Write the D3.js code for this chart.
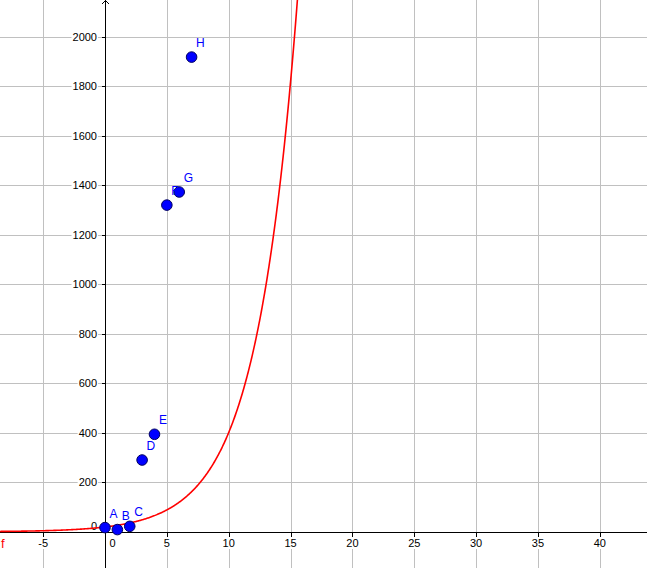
<!DOCTYPE html>
<html><head><meta charset="utf-8">
<script src="https://cdn.jsdelivr.net/npm/d3@7"></script>
<style>html,body{margin:0;padding:0;background:#fff;overflow:hidden}</style>
</head><body>
<svg id="c" width="647" height="568"></svg>
<script>
// Data
const pointLabels = ["A","B","C","D","E","F","G","H"];
const pointX = [0, 1, 2, 3, 4, 5, 6, 7];
const pointY = [17, 9, 22, 290, 394, 1320, 1373, 1918];
const xTicks = [-5, 0, 5, 10, 15, 20, 25, 30, 35, 40];
const yTicks = [0, 200, 400, 600, 800, 1000, 1200, 1400, 1600, 1800, 2000];
const fA = 19.5, fB = 1.353; // f(x) = a * b^x
const funcName = "f";

const W = 647, H = 568;
const x = d3.scaleLinear().domain([0, 40]).range([105, 105 + 40 * 12.37]);
const y = d3.scaleLinear().domain([0, 2000]).range([531.8, 531.8 - 2000 * 0.2475]);
const svg = d3.select("#c");
const fontF = "'Liberation Sans', Arial, sans-serif";

// grid
const grid = svg.append("g").attr("stroke", "#c0c0c0").attr("stroke-width", 1).attr("shape-rendering", "crispEdges");
grid.selectAll("line.v").data(xTicks).join("line")
  .attr("x1", d => Math.round(x(d)) + 0.5).attr("x2", d => Math.round(x(d)) + 0.5)
  .attr("y1", 0).attr("y2", H);
grid.selectAll("line.h").data(yTicks.filter(d => d !== 0)).join("line")
  .attr("y1", d => Math.round(y(d)) + 0.5).attr("y2", d => Math.round(y(d)) + 0.5)
  .attr("x1", 0).attr("x2", W);

// axes
const x0 = Math.round(x(0)) + 0.5, y0 = Math.round(y(0)) + 0.5;
const ax = svg.append("g").attr("stroke", "#000").attr("stroke-width", 1).attr("shape-rendering", "crispEdges");
ax.append("line").attr("x1", 0).attr("x2", W).attr("y1", y0).attr("y2", y0);
ax.append("line").attr("x1", x0).attr("x2", x0).attr("y1", 0).attr("y2", H);
ax.selectAll("line.yt").data(yTicks.filter(d => d !== 0)).join("line")
  .attr("x1", x0 - 4).attr("x2", x0).attr("y1", d => Math.round(y(d)) + 0.5).attr("y2", d => Math.round(y(d)) + 0.5);
ax.selectAll("line.xt").data(xTicks.filter(d => d !== 0)).join("line")
  .attr("x1", d => Math.round(x(d)) + 0.5).attr("x2", d => Math.round(x(d)) + 0.5).attr("y1", y0).attr("y2", y0 + 4);
svg.append("path").attr("d", `M${x0-3.5},4 L${x0},0.5 L${x0+3.5},4`).attr("fill", "none").attr("stroke", "#000").attr("stroke-width", 1);

// tick labels with white backgrounds
function lab(txt, px, py, anchor) {
  const g = svg.append("g");
  const t = g.append("text").attr("x", px).attr("y", py).attr("text-anchor", anchor)
    .attr("font-family", fontF).attr("font-size", 11).attr("fill", "#000").text(txt);
  const b = t.node().getBBox();
  g.insert("rect", "text").attr("x", b.x - 1).attr("y", b.y).attr("width", b.width + 2).attr("height", b.height).attr("fill", "#fff");
}
xTicks.forEach(d => {
  if (d === 0) lab("0", x(0) + 7.5, 547, "middle");
  else lab(String(d), x(d), 547, "middle");
});
yTicks.forEach(d => {
  if (d === 0) lab("0", x(0) - 8, 530, "end");
  else lab(String(d), x(0) - 8, y(d) + 4, "end");
});

// function curve
const xs = d3.range(-8.6, 16.5, 0.05);
const line = d3.line().x(d => x(d)).y(d => y(fA * Math.pow(fB, d)));
svg.append("path").datum(xs).attr("d", line).attr("fill", "none").attr("stroke", "#ff0000").attr("stroke-width", 1.6);
svg.append("text").attr("x", 1).attr("y", 548).attr("font-family", fontF).attr("font-size", 13).attr("fill", "#ff0000").text(funcName);

// points
const pts = pointX.map((v, i) => ({ n: pointLabels[i], x: v, y: pointY[i] }));
svg.selectAll("circle.p").data(pts).join("circle")
  .attr("cx", d => x(d.x)).attr("cy", d => y(d.y)).attr("r", 5.3)
  .attr("fill", "#0000ff").attr("stroke", "#000060").attr("stroke-width", 1);
svg.selectAll("text.pl").data(pts).join("text")
  .attr("x", d => x(d.x) + 4.5).attr("y", d => y(d.y) - 10)
  .attr("font-family", fontF).attr("font-size", 12).attr("fill", "#0000ff").text(d => d.n);
</script>
</body></html>
